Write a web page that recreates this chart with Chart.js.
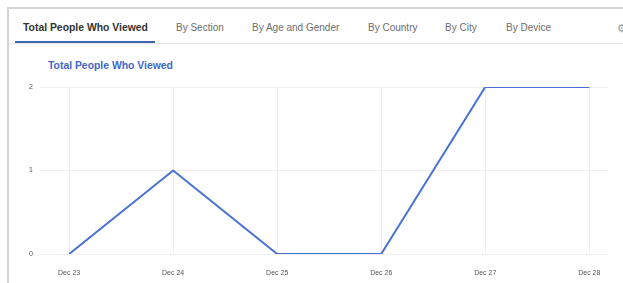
<!DOCTYPE html>
<html><head><meta charset="utf-8">
<script src="https://cdn.jsdelivr.net/npm/chart.js@4/dist/chart.umd.min.js"></script>
<style>
html,body{margin:0;padding:0;background:#fff;width:623px;height:283px;overflow:hidden;font-family:"Liberation Sans",Arial,sans-serif;}
#frame{position:absolute;left:7px;top:7px;width:640px;height:300px;border-left:2px solid #d3d3d3;border-top:2px solid #d3d3d3;}
#tabs{position:absolute;left:9px;top:9px;width:614px;height:34px;border-bottom:1px solid #e6e6e6;}
.tab{position:absolute;top:22px;font-size:10px;line-height:12px;color:#6d6d6d;white-space:nowrap;}
.tab.active{font-weight:bold;font-size:10.4px;color:#333;}
#uline{position:absolute;left:15px;top:41px;width:140px;height:2px;background:#4267b2;}
#gear{position:absolute;left:617px;top:22px;font-size:11px;color:#999;}
#ctitle{position:absolute;left:48px;top:60px;font-size:10.4px;font-weight:bold;color:#4267c8;white-space:nowrap;}
#wrap{position:absolute;left:8px;top:50px;width:615px;height:233px;}
</style></head><body>
<div id="frame"></div>
<div id="tabs"></div>
<div class="tab active" style="left:23px">Total People Who Viewed</div>
<div class="tab" style="left:176px">By Section</div>
<div class="tab" style="left:252px">By Age and Gender</div>
<div class="tab" style="left:368px">By Country</div>
<div class="tab" style="left:445px">By City</div>
<div class="tab" style="left:506px">By Device</div>
<div id="uline"></div>
<div id="gear">⚙</div>
<div id="ctitle">Total People Who Viewed</div>
<div id="wrap"><canvas id="c" width="615" height="233"></canvas></div>
<script>
const categories = ["Dec 23","Dec 24","Dec 25","Dec 26","Dec 27","Dec 28"];
const viewers = [0,1,0,0,2,2];
const yTicks = [0,1,2];

const points = viewers.map((v,i)=>({x:i,y:v}));
new Chart(document.getElementById('c'),{
  type:'line',
  data:{datasets:[{label:'Total People Who Viewed',data:points,borderColor:'#4a72d4',borderWidth:2,pointRadius:0,tension:0,fill:false}]},
  options:{
    responsive:false,animation:false,
    layout:{padding:{top:37,right:15,left:0,bottom:0}},
    plugins:{legend:{display:false},tooltip:{enabled:false},title:{display:false}},
    scales:{
      x:{type:'linear',min:-0.28,max:5.18,
        afterFit(s){s.height=29;},
        border:{display:false},
        grid:{color:'#efefef',drawTicks:false},
        ticks:{stepSize:1,includeBounds:false,padding:15,maxRotation:0,autoSkip:false,
          font:{size:7,family:'"Liberation Sans",Arial'},color:'#555',
          callback:(v)=>categories[v]}
      },
      y:{min:yTicks[0],max:yTicks[yTicks.length-1],
        afterFit(s){s.width=32;},
        border:{display:false},
        grid:{color:'#efefef',drawTicks:false},
        ticks:{stepSize:1,padding:7,font:{size:7,family:'"Liberation Sans",Arial'},color:'#555'}
      }
    }
  }
});
</script>
</body></html>
